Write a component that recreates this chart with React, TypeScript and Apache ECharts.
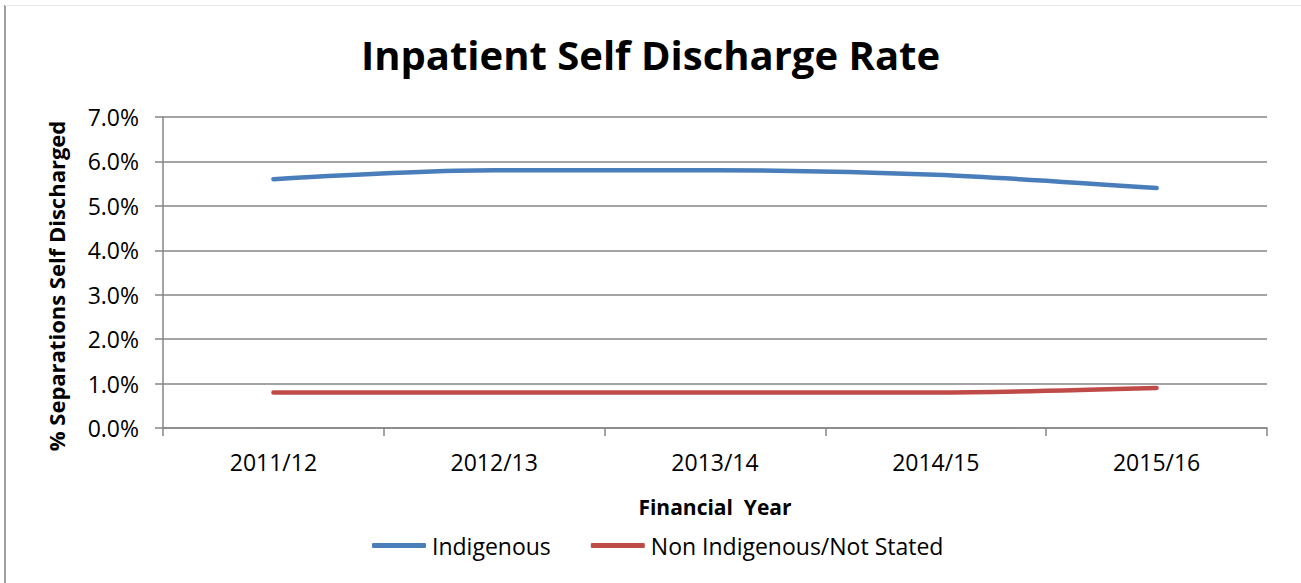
import React, { useEffect, useRef } from "react";
import * as echarts from "echarts";

const categories = ["2011/12", "2012/13", "2013/14", "2014/15", "2015/16"];
const indigenous = [5.6, 5.8, 5.8, 5.7, 5.4];
const nonIndigenous = [0.8, 0.8, 0.8, 0.8, 0.9];
const seriesNames = ["Indigenous", "Non Indigenous/Not Stated"];
const titleText = "Inpatient Self Discharge Rate";
const yAxisName = "% Separations Self Discharged";
const xAxisName = "Financial  Year";

const FONT = "'Open Sans', 'Noto Sans', sans-serif";

export default function App() {
  const ref = useRef<HTMLDivElement>(null);
  useEffect(() => {
    if (!ref.current) return;
    const chart = echarts.init(ref.current, null, { renderer: "svg" });
    chart.setOption({
      animation: false,
      backgroundColor: "#ffffff",
      title: {
        text: titleText,
        left: "center",
        top: 29,
        textStyle: { fontFamily: FONT, fontSize: 40, fontWeight: "bold", color: "#000" },
      },
      graphic: [
        { type: "line", shape: { x1: 5, y1: 5, x2: 5, y2: 583 }, style: { stroke: "#a0a0a0", lineWidth: 2 } },
        { type: "line", shape: { x1: 5, y1: 5.5, x2: 1301, y2: 5.5 }, style: { stroke: "#e6e6e6", lineWidth: 1 } },
        {
          type: "text",
          x: 56,
          y: 286,
          rotation: Math.PI / 2,
          style: {
            text: yAxisName,
            fontFamily: FONT,
            fontSize: 22,
            fontWeight: "bold",
            fill: "#000",
            align: "center",
            verticalAlign: "middle",
          },
        },
      ],
      legend: {
        data: seriesNames,
        bottom: 21,
        left: 367,
        itemWidth: 54,
        itemHeight: 5,
        itemGap: 40,
        icon: "roundRect",
        textStyle: { fontFamily: FONT, fontSize: 23, color: "#000", padding: [0, 0, 0, 1] },
      },
      grid: { left: 163, right: 34, top: 117, bottom: 155 },
      xAxis: {
        type: "category",
        data: categories,
        boundaryGap: true,
        name: xAxisName,
        nameLocation: "middle",
        nameGap: 68,
        nameTextStyle: { fontFamily: FONT, fontSize: 21, fontWeight: "bold", color: "#000" },
        axisLine: { lineStyle: { color: "#868686", width: 1.5 } },
        axisTick: { show: true, length: 8, lineStyle: { color: "#868686", width: 1.5 } },
        axisLabel: { fontFamily: FONT, fontSize: 23, color: "#000", margin: 22 },
      },
      yAxis: {
        type: "value",
        min: 0,
        max: 7,
        interval: 1,
        axisLine: { show: true, lineStyle: { color: "#868686", width: 1.5 } },
        axisTick: { show: true, length: 8, lineStyle: { color: "#868686", width: 1.5 } },
        axisLabel: {
          fontFamily: FONT,
          fontSize: 23,
          color: "#000",
          margin: 24,
          formatter: (v: number) => v.toFixed(1) + "%",
        },
        splitLine: { lineStyle: { color: "#868686", width: 1.5 } },
      },
      series: [
        {
          name: seriesNames[0],
          type: "line",
          data: indigenous,
          smooth: 0.3,
          showSymbol: false,
          symbol: "none",
          color: "#4a7ebb",
          lineStyle: { color: "#4a7ebb", width: 4.5, cap: "round" },
        },
        {
          name: seriesNames[1],
          type: "line",
          data: nonIndigenous,
          smooth: 0.3,
          showSymbol: false,
          symbol: "none",
          color: "#be4b48",
          lineStyle: { color: "#be4b48", width: 4.5, cap: "round" },
        },
      ],
    });
    return () => chart.dispose();
  }, []);
  return (
    <div
      ref={ref}
      style={{ position: "absolute", left: 0, top: 0, width: 1301, height: 583 }}
    />
  );
}
